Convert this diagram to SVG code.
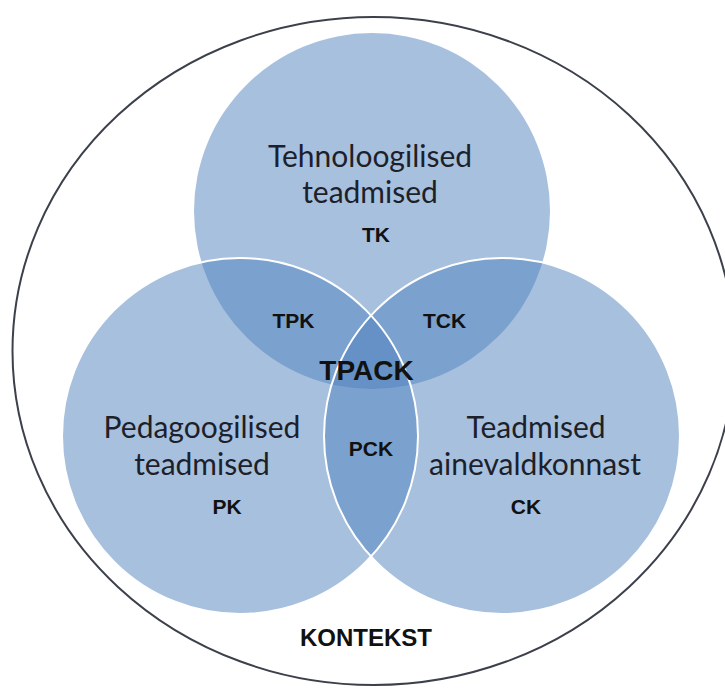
<svg xmlns="http://www.w3.org/2000/svg" width="725" height="689" viewBox="0 0 725 689">
  <style>
    .set { fill: #4f81bd; fill-opacity: 0.5; }
    .rim { fill: none; stroke: #ffffff; stroke-width: 2; }
    .name { font-family: Lato, "Open Sans", sans-serif; font-size: 30px; fill: #1d1f2b; text-anchor: middle; }
    .abbr { font-family: "Liberation Sans", Arial, sans-serif; font-weight: bold; font-size: 21px; fill: #111111; text-anchor: middle; }
  </style>

  <!-- context boundary -->
  <g id="kontekst">
    <ellipse cx="373.5" cy="351" rx="361" ry="334" fill="#ffffff" stroke="#3b404a" stroke-width="2"/>
    <text class="abbr" x="366" y="646" style="font-size:24px">KONTEKST</text>
  </g>

  <!-- knowledge domains -->
  <g id="tk">
    <circle class="set" cx="372" cy="211" r="178"/>
  </g>
  <g id="pk">
    <circle class="set" cx="240" cy="436" r="178"/>
  </g>
  <g id="ck">
    <circle class="set" cx="502" cy="436" r="178"/>
  </g>

  <!-- white rims on the lower pair -->
  <circle class="rim" cx="240" cy="436" r="178"/>
  <circle class="rim" cx="502" cy="436" r="178"/>

  <g id="tk-label">
    <text class="name" x="370" y="167">Tehnoloogilised</text>
    <text class="name" x="370" y="203">teadmised</text>
    <text class="abbr" x="376" y="242">TK</text>
  </g>
  <g id="pk-label">
    <text class="name" x="202" y="438">Pedagoogilised</text>
    <text class="name" x="202" y="475">teadmised</text>
    <text class="abbr" x="227" y="514">PK</text>
  </g>
  <g id="ck-label">
    <text class="name" x="536" y="438">Teadmised</text>
    <text class="name" x="535" y="475">ainevaldkonnast</text>
    <text class="abbr" x="526" y="514">CK</text>
  </g>
  <g id="tpk">
    <text class="abbr" x="293.5" y="328">TPK</text>
  </g>
  <g id="tck">
    <text class="abbr" x="444.5" y="328">TCK</text>
  </g>
  <g id="pck">
    <text class="abbr" x="371" y="456">PCK</text>
  </g>
  <g id="tpack">
    <text class="abbr" x="366.5" y="380" style="font-size:28px">TPACK</text>
  </g>
</svg>
